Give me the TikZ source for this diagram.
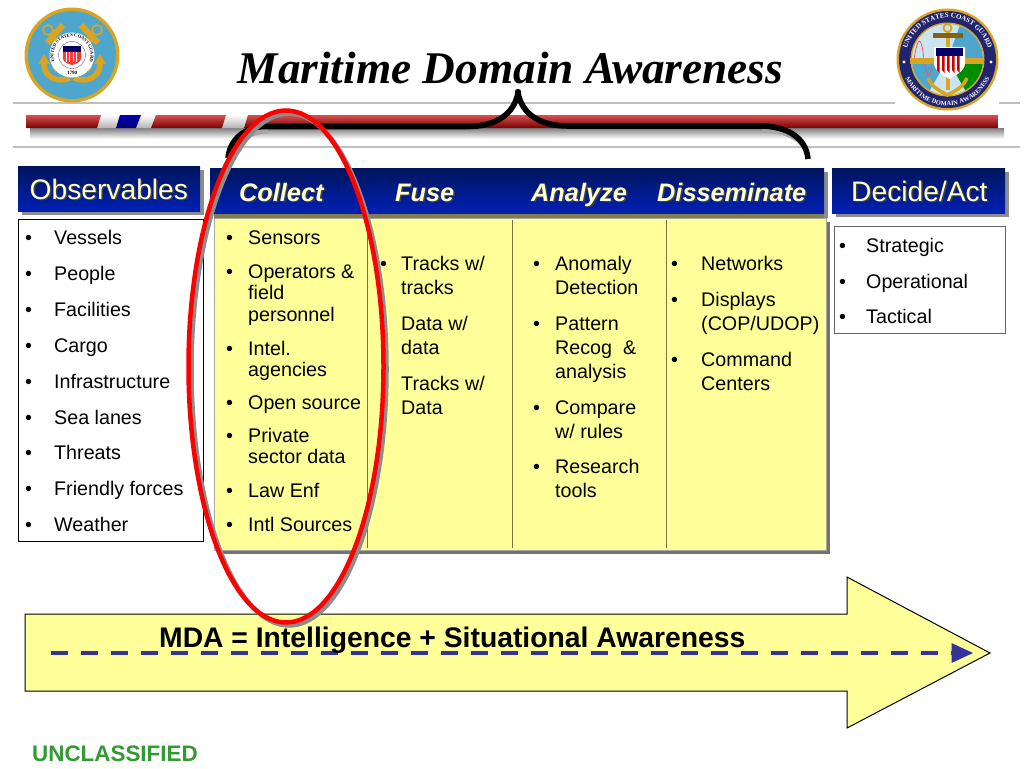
\documentclass[tikz,border=0pt]{standalone}
\usepackage{fontspec}
\setmainfont{Liberation Sans}
\newfontfamily\titlefont{Liberation Serif}
\usetikzlibrary{decorations.text,arrows.meta}
\definecolor{panelyellow}{HTML}{FFFF99}
\definecolor{headtext}{HTML}{FFFFD0}
\definecolor{navytop}{HTML}{00145C}
\definecolor{navymid}{HTML}{001A86}
\definecolor{navybot}{HTML}{0020B4}
\definecolor{barlight}{HTML}{D85050}
\definecolor{barmid}{HTML}{B01018}
\definecolor{bardark}{HTML}{7A0000}
\definecolor{seallblue}{HTML}{4FA6CC}
\definecolor{sealgold}{HTML}{D9A520}
\definecolor{sealnavy}{HTML}{22246E}
\definecolor{dashblue}{HTML}{333399}
\definecolor{uncgreen}{HTML}{339933}
\tikzset{
  x=1pt,y=-1pt,
  headbox/.style={shading=axis,top color=navytop,middle color=navymid,bottom color=navybot,shading angle=0},
  headshadow/.style={fill=black!45},
  whitebox/.style={draw=black,line width=0.8pt,fill=white},
  itemtext/.style={anchor=base west,inner sep=0pt,font=\fontsize{19.7}{21.5}\selectfont},
  widetext/.style={anchor=base west,inner sep=0pt,font=\fontsize{19.7}{24}\selectfont},
  headlabel/.style={anchor=base west,inner sep=0pt,text=headtext,font=\fontsize{28.2}{30}\selectfont},
  headshade/.style={anchor=base west,inner sep=0pt,text=black!75,font=\fontsize{28.2}{30}\selectfont},
  stagelabel/.style={anchor=base west,inner sep=0pt,text=headtext,font=\fontsize{25.3}{28}\selectfont\bfseries\itshape},
  stageshade/.style={anchor=base west,inner sep=0pt,text=black!75,font=\fontsize{25.3}{28}\selectfont\bfseries\itshape},
  divider/.style={draw=black!60!yellow,line width=0.9pt},
  rulegray/.style={draw=black!25,line width=1.2pt},
  gapstripe/.style={top color=white,bottom color=black!30},
  barstripe/.style={top color=barlight,middle color=barmid,bottom color=bardark},
}
\newcommand{\bitem}[6][itemtext]{%
  \node[#1] (#2b) at (#3,#5) {•};
  \node[#1] (#2) at (#4,#5) {\begin{tabular}[t]{@{}l@{}}#6\end{tabular}};}
\newcommand{\shadowlabel}[6]{%
  \node[#2] (#1s) at (#4+1.5,#5+1.5) {#6};
  \node[#3] (#1) at (#4,#5) {#6};}
\begin{document}
\begin{tikzpicture}
\useasboundingbox (0,0) rectangle (1024,768);
\fill[white] (0,0) rectangle (1024,768);

% horizontal rules
\draw[rulegray] (13,103) -- (895,103);
\draw[rulegray] (999,103) -- (1020,103);
\draw[rulegray] (13,147) -- (1020,147);

% striped bar: shadow
\shade[top color=black!50,bottom color=white] (30,128) rectangle (1004,139);
\shade[gapstripe] (100,115) -- (120,115) -- (116,128) -- (96,128) -- cycle;
\shade[gapstripe] (140,115) -- (156,115) -- (152,128) -- (136,128) -- cycle;
\shade[gapstripe] (226,115) -- (248,115) -- (244,128) -- (222,128) -- cycle;
% striped bar
\shade[barstripe] (26,115) -- (101,115) -- (97,128) -- (26,128) -- cycle;
\shade[top color=blue!70!black,bottom color=blue!45!black]
  (120,115) -- (141,115) -- (136,128) -- (116,128) -- cycle;
\shade[barstripe] (156,115) -- (226,115) -- (222,128) -- (151,128) -- cycle;
\shade[barstripe] (248,115) -- (998,115) -- (998,128) -- (244,128) -- cycle;

% brace over the stages
\draw[line width=5pt,black!35] (231,159) .. controls (233,143) and (246,132) .. (268,131);
\draw[line width=5pt,black!35] (762,130) .. controls (784,130) and (802,138) .. (807,152);
\draw[line width=5.6pt,black,line join=round,line cap=butt] (228,158) .. controls (230,139) and (245,127) .. (265,126.5) -- (468,126.5)
  .. controls (496,126.5) and (514,114) .. (518,93) .. controls (522,114) and (540,126) .. (568,126) -- (760,126)
  .. controls (786,126) and (806,137) .. (808,159);
\fill[black] (518,92) circle (3.2);

% title
\node[anchor=base,inner sep=0pt,font=\titlefont\fontsize{45.3}{48}\selectfont\bfseries\itshape] (title) at (510.5,83) {Maritime Domain Awareness};

% left seal
\fill[sealgold] (72,55) circle (47.5);
\fill[seallblue] (72,55) circle (44);
\draw[sealgold,line width=6pt] (63,25) -- (47,43);
\draw[sealgold,line width=6pt] (81,25) -- (98,43);
\draw[sealgold,line width=1.6pt] (48,30) circle (5);
\draw[sealgold,line width=1.6pt] (97,30) circle (5);
\draw[sealgold,line width=6pt] (50,37) -- (90,70);
\draw[sealgold,line width=6pt] (94,37) -- (54,70);
\draw[sealgold,line width=5.5pt] (44,60) .. controls (42,76) and (56,84) .. (70,78);
\draw[sealgold,line width=5.5pt] (100,60) .. controls (102,76) and (88,84) .. (74,78);
\fill[sealgold] (38,64) -- (44,54) -- (50,64) -- cycle;
\fill[sealgold] (94,64) -- (100,54) -- (106,64) -- cycle;
\fill[white] (72,55) circle (22.5);
\draw[black!60,line width=0.4pt] (72,55) circle (13.5);
\path[decorate,decoration={text along path,text align=center,text={|\fontsize{4.6}{5}\selectfont\titlefont\bfseries|UNITED STATES COAST GUARD}}]
  (55.98,64.25) arc[start angle=150,end angle=390,radius=18.5];
\node[inner sep=0pt,font=\titlefont\fontsize{5}{6}\selectfont\bfseries] (sealyear) at (72,73) {1790};
\fill[blue!40!black] (63,46) rectangle (81,52);
\fill[red!70!pink] (63,52) -- (81,52) -- (81,59) .. controls (80,63) and (75,64) .. (72,65) .. controls (69,64) and (64,63) .. (63,59) -- cycle;
\foreach \sx in {65.5,69,72.5,76}{\fill[white] (\sx,52) rectangle (\sx+1.2,62);}

% right seal
\fill[sealgold] (947.5,59.5) circle (51);
\fill[sealnavy] (947.5,59.5) circle (48.5);
\path[decorate,decoration={text along path,text align=center,text={|\fontsize{7}{8}\selectfont\titlefont\bfseries\color{white}|UNITED STATES COAST GUARD}}]
  (906.9,69.6) arc[start angle=166,end angle=374,radius=41.8];
\path[decorate,decoration={text along path,text align=center,text={|\fontsize{6.4}{7}\selectfont\titlefont\bfseries\color{white}|MARITIME DOMAIN AWARENESS}}]
  (903.1,71.4) arc[start angle=165,end angle=15,radius=46];
\fill[white] (904,62) circle (1.6);
\fill[white] (991,62) circle (1.6);
\fill[sealgold] (947.5,59.5) circle (37);
\fill[white!70!seallblue] (947.5,59.5) circle (35.5);
\fill[seallblue] (947.5,59.5) -- (983,59.5) arc[start angle=0,end angle=-70,radius=35.5] -- cycle;
\fill[green!55!black] (947.5,59.5) -- (983,59.5) arc[start angle=0,end angle=60,radius=35.5] -- cycle;
\fill[seallblue] (947.5,59.5) -- (912,59.5) arc[start angle=180,end angle=120,radius=35.5] -- cycle;
\draw[red!70!white,line width=0.7pt] (914,59) .. controls (918,35) and (921,35) .. (924,59) .. controls (927,80) and (930,80) .. (933,59);
\draw[sealgold,line width=1.8pt] (947.5,28) circle (4);
\draw[sealgold,line width=4pt] (947.5,32) -- (947.5,90);
\fill[sealgold!60!black] (933,33) rectangle (963,38);
\draw[sealgold,line width=6pt] (910,61) -- (983,61);
\draw[sealgold,line width=3.5pt] (928,78) .. controls (932,88) and (942,92) .. (947.5,95) .. controls (953,92) and (963,88) .. (967,78);
\fill[white] (934,47) -- (965,47) -- (965,64) .. controls (964,72) and (954,76) .. (949.5,79) .. controls (945,76) and (935,72) .. (934,64) -- cycle;
\fill[blue!40!black] (936,48.5) rectangle (963,56);
\foreach \sx in {937,942,947,952,957}{\fill[red!80!black] (\sx,56) -- (\sx+2.5,56) -- (\sx+2.5,73) -- (\sx,70) -- cycle;}

% white lists
\draw[whitebox] (18,219) rectangle (203,541);
\draw[whitebox,draw=black!60] (834,226.5) rectangle (1005,333);

% stage panel
\fill[black!55] (218,222) rectangle (829.5,553.5);
\fill[panelyellow,draw=black!35,line width=0.7pt] (214,218) rectangle (826,550);
\fill[black!45!yellow!80!black] (214,213) rectangle (828,218);
\fill[black!45!white] (824,172) rectangle (828,218);

% headers
\fill[headshadow] (22,170) rectangle (204,215);
\shade[headbox] (18,166) rectangle (200,211);
\shade[headbox] (210,168) rectangle (824,213);
\fill[headshadow] (836,172) rectangle (1009,217);
\shade[headbox] (832,168) rectangle (1005,213);

\shadowlabel{observables}{headshade}{headlabel}{29.5}{199}{Observables}
\shadowlabel{decide}{headshade}{headlabel}{851}{201}{Decide/Act}
\shadowlabel{collect}{stageshade}{stagelabel}{239}{201}{Collect}
\shadowlabel{fuse}{stageshade}{stagelabel}{395}{201}{Fuse}
\shadowlabel{analyze}{stageshade}{stagelabel}{531}{201}{Analyze}
\shadowlabel{disseminate}{stageshade}{stagelabel}{657}{201}{Disseminate}

% dividers
\draw[divider] (367,220) -- (367,548);
\draw[divider] (512,220) -- (512,548);
\draw[divider] (666,220) -- (666,548);

% observables list
\bitem{obsa}{25}{54}{244}{Vessels}
\bitem{obsb}{25}{54}{280}{People}
\bitem{obsc}{25}{54}{316}{Facilities}
\bitem{obsd}{25}{54}{352}{Cargo}
\bitem{obse}{25}{54}{388}{Infrastructure}
\bitem{obsf}{25}{54}{424}{Sea lanes}
\bitem{obsg}{25}{54}{459}{Threats}
\bitem{obsh}{25}{54}{495}{Friendly forces}
\bitem{obsi}{25}{54}{531}{Weather}

% collect list
\bitem{cola}{226}{248}{244}{Sensors}
\bitem{colb}{226}{248}{278}{Operators \&\\field\\personnel}
\bitem{colc}{226}{248}{355}{Intel.\\agencies}
\bitem{cold}{226}{248}{409}{Open source}
\bitem{cole}{226}{248}{442}{Private\\sector data}
\bitem{colf}{226}{248}{497}{Law Enf}
\bitem{colg}{226}{248}{531}{Intl Sources}

% fuse list
\bitem[widetext]{fusa}{380}{401}{270}{Tracks w/\\tracks}
\bitem[widetext]{fusb}{380}{401}{330}{Data w/\\data}
\bitem[widetext]{fusc}{380}{401}{390}{Tracks w/\\Data}

% analyze list
\bitem[widetext]{anaa}{533}{555}{270}{Anomaly\\Detection}
\bitem[widetext]{anab}{533}{555}{330}{Pattern\\Recog~ \&\\analysis}
\bitem[widetext]{anac}{533}{555}{414}{Compare\\w/ rules}
\bitem[widetext]{anad}{533}{555}{473}{Research\\tools}

% disseminate list
\bitem[widetext]{disa}{671}{701}{270}{Networks}
\bitem[widetext]{disb}{671}{701}{306}{Displays\\(COP/UDOP)}
\bitem[widetext]{disc}{671}{701}{366}{Command\\Centers}

% decide list
\bitem{deca}{839}{866}{252}{Strategic}
\bitem{decb}{839}{866}{288}{Operational}
\bitem{decc}{839}{866}{323}{Tactical}

% big arrow
\draw[draw=black,line width=1pt,fill=panelyellow] (25,614) -- (847,614) -- (847,577) -- (990,653) -- (847,728) -- (847,691) -- (25,691) -- cycle;
\coordinate (dashstart) at (51,653);
\coordinate (dashend) at (955,653);
\coordinate (dashtip) at (973,653);
\draw[dashblue,line width=4pt,dash pattern=on 17pt off 13pt] (dashstart) -- (dashend);
\fill[dashblue] (dashtip) -- (951.5,643) -- (951.5,663) -- cycle;

% red ellipse
\draw[black!45,line width=4.5pt] (289,369.5) ellipse [x radius=97.5,y radius=256];
\draw[red,line width=4.5pt] (286,366.5) ellipse [x radius=97.5,y radius=256];

\node[anchor=base west,inner sep=0pt,font=\fontsize{28.3}{30}\selectfont\bfseries] (mda) at (159,647) {MDA = Intelligence + Situational Awareness};
\node[anchor=base west,inner sep=0pt,text=uncgreen,font=\fontsize{22.4}{24}\selectfont\bfseries] (unclass) at (32,761) {UNCLASSIFIED};
\end{tikzpicture}
\end{document}
